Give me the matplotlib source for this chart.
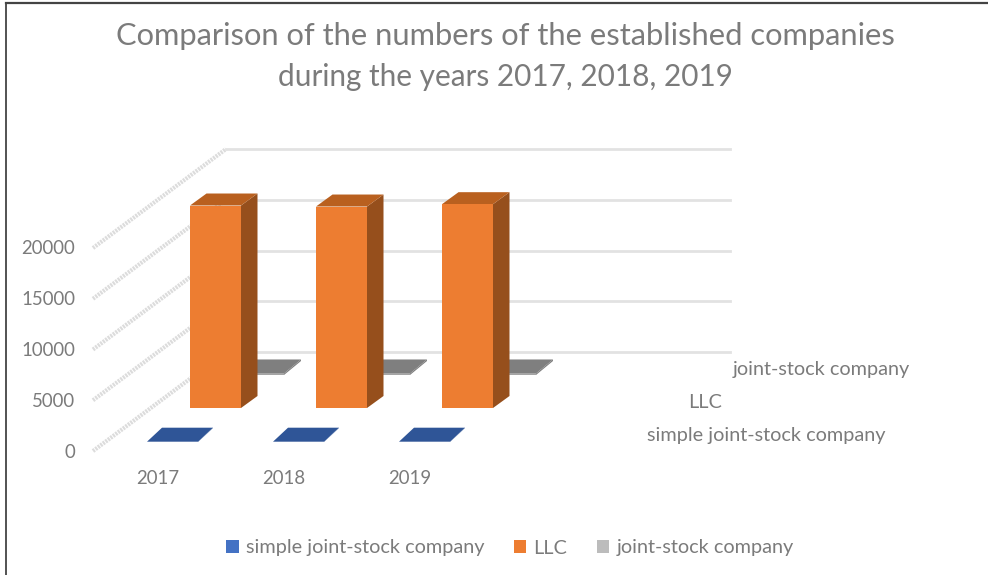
import matplotlib
matplotlib.use('Agg')
import matplotlib.pyplot as plt
from matplotlib.patches import Polygon, Patch

years = ['2017', '2018', '2019']
series_names = ['simple joint-stock company', 'LLC', 'joint-stock company']
simple_jsc = [30, 30, 30]
llc = [19950, 19850, 20080]
jsc = [150, 150, 150]
value_ticks = [0, 5000, 10000, 15000, 20000]

plt.rcParams['font.family'] = 'Lato'
TEXT = '#7b7b7b'
LABEL_SIZE = 14.3
TICK_SIZE = 13.4

# pixel size of one category and one unit of value on the front plane
CAT_W = 126.0
VAL_H = 50.75 / 5000
X0, Y0 = 93, 451
W, H = 988, 575


def cat(px):
    return (px - X0) / CAT_W


def val(py):
    return (Y0 - py) / VAL_H


fig = plt.figure(figsize=(W / 100, H / 100), dpi=100)
ax = fig.add_axes([0, 0, 1, 1])
ax.set_xlim(cat(0), cat(W))
ax.set_ylim(val(H), val(0))
ax.axis('off')


def oblique(x, v, dx, dy):
    # shift a point on the front plane back by (dx, dy) pixels
    return x + dx / CAT_W, v + dy / VAL_H


# side wall and back wall grid
for v in value_ticks:
    bx, bv = oblique(0, v, 133, 99)
    ax.plot([0, bx], [v, bv], color='#dcdcdc', lw=3, ls=(0, (0.5, 0.25)), zorder=1)
    ax.plot([bx, bx + 504 / CAT_W], [bv, bv], color='#e2e2e2', lw=2, zorder=1)
    ax.text(cat(75), v - 1 / VAL_H, str(v), ha='right', va='center', color=TEXT, fontsize=TICK_SIZE)

bar_w = 51 / CAT_W
styles = [
    ('#4472c4', '#2f5597', '#2f5597', 54, (15, 14), 9, simple_jsc),
    ('#ed7d31', '#b9601f', '#964f1c', 97, (16.5, 12), 43, llc),
    ('#a5a5a5', '#7f7f7f', '#7f7f7f', 140, (17, 14), 76, jsc),
]

# back series first so the nearer ones cover them
for front, top, side, left, depth, lift, values in reversed(styles):
    for i, v in enumerate(values):
        x0 = i + left / CAT_W
        base = lift / VAL_H
        x1 = x0 + bar_w
        dx, dy = depth
        face = [(x0, base), (x1, base), (x1, base + v), (x0, base + v)]
        roof = [(x0, base + v), (x1, base + v), oblique(x1, base + v, dx, dy), oblique(x0, base + v, dx, dy)]
        wall = [(x1, base), oblique(x1, base, dx, dy), oblique(x1, base + v, dx, dy), (x1, base + v)]
        ax.add_patch(Polygon(wall, closed=True, fc=side, ec='none', zorder=3))
        ax.add_patch(Polygon(roof, closed=True, fc=top, ec='none', zorder=3))
        ax.add_patch(Polygon(face, closed=True, fc=front, ec='none', zorder=3))

for i, y in enumerate(years):
    ax.text(i + cat(158), val(479), y, ha='center', va='center', color=TEXT, fontsize=TICK_SIZE)

# series labels along the depth axis
ax.text(cat(733), val(370), series_names[2], ha='left', va='center', color=TEXT, fontsize=LABEL_SIZE)
ax.text(cat(722), val(403), series_names[1], ha='right', va='center', color=TEXT, fontsize=LABEL_SIZE)
ax.text(cat(647), val(436), series_names[0], ha='left', va='center', color=TEXT, fontsize=LABEL_SIZE)

ax.text(cat(505), val(36), 'Comparison of the numbers of the established companies',
        ha='center', va='center', color=TEXT, fontsize=22.2)
ax.text(cat(505), val(77), 'during the years 2017, 2018, 2019',
        ha='center', va='center', color=TEXT, fontsize=21.4)

handles = [Patch(fc=c) for c in ['#4472c4', '#ed7d31', '#bcbcbc']]
fig.legend(handles, series_names, loc='center', bbox_to_anchor=(510 / W, 1 - 548 / H), ncol=3,
           frameon=False, fontsize=LABEL_SIZE, labelcolor=TEXT, handlelength=0.62, handleheight=0.62,
           handletextpad=0.35, columnspacing=1.5)

# chart border, open on the right and at the bottom
ax.plot([cat(5.5), cat(5.5)], [val(H), val(3)], color='#444444', lw=1.3, zorder=5)
ax.plot([cat(5.5), cat(W)], [val(3), val(3)], color='#444444', lw=1.6, zorder=5)

fig.savefig('out.png', dpi=100)
